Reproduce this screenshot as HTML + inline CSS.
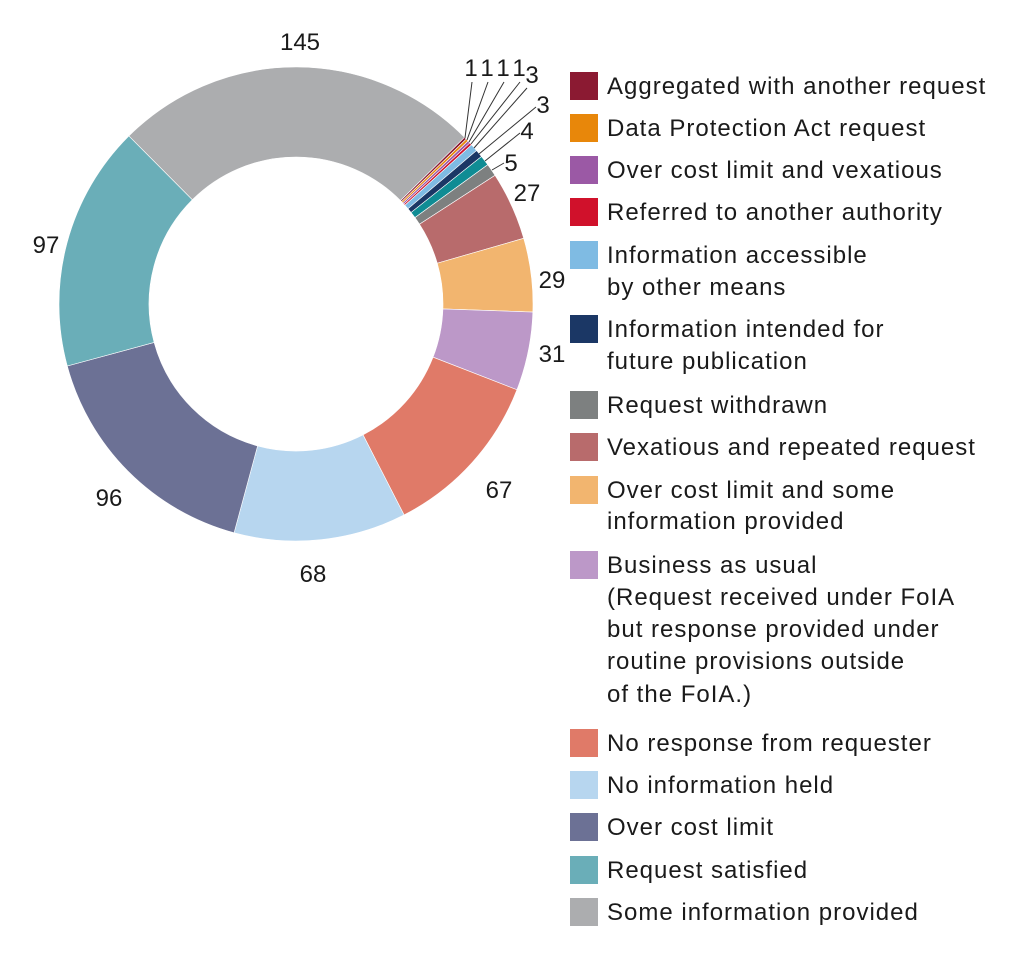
<!DOCTYPE html>
<html><head><meta charset="utf-8"><style>
html,body{margin:0;padding:0;background:#fff;}
svg text{font-family:"Liberation Sans",sans-serif;fill:#1a1a1a;}
</style></head><body>
<svg width="1011" height="958" viewBox="0 0 1011 958" xmlns="http://www.w3.org/2000/svg">
<g stroke="#fff" stroke-width="0.6">
<path fill="#8b1a32" d="M464.46,137.30 A237,237 0 0 1 466.26,139.14 L401.61,201.75 A147,147 0 0 0 400.49,200.60 Z"/>
<path fill="#e8870a" d="M466.26,139.14 A237,237 0 0 1 468.06,141.02 L402.72,202.91 A147,147 0 0 0 401.61,201.75 Z"/>
<path fill="#9b59a5" d="M468.06,141.02 A237,237 0 0 1 469.86,142.93 L403.84,204.10 A147,147 0 0 0 402.72,202.91 Z"/>
<path fill="#d0112b" d="M469.86,142.93 A237,237 0 0 1 471.59,144.83 L404.91,205.28 A147,147 0 0 0 403.84,204.10 Z"/>
<path fill="#7fbbe3" d="M471.59,144.83 A237,237 0 0 1 476.59,150.52 L408.01,208.80 A147,147 0 0 0 404.91,205.28 Z"/>
<path fill="#1b3765" d="M476.59,150.52 A237,237 0 0 1 481.50,156.52 L411.06,212.52 A147,147 0 0 0 408.01,208.80 Z"/>
<path fill="#0f8c94" d="M481.50,156.52 A237,237 0 0 1 487.76,164.71 L414.94,217.61 A147,147 0 0 0 411.06,212.52 Z"/>
<path fill="#7d8080" d="M487.76,164.71 A237,237 0 0 1 495.03,175.33 L419.45,224.19 A147,147 0 0 0 414.94,217.61 Z"/>
<path fill="#b86b6c" d="M495.03,175.33 A237,237 0 0 1 523.71,238.28 L437.24,263.24 A147,147 0 0 0 419.45,224.19 Z"/>
<path fill="#f2b56f" d="M523.71,238.28 A237,237 0 0 1 532.86,312.03 L442.91,308.98 A147,147 0 0 0 437.24,263.24 Z"/>
<path fill="#bc98c8" d="M532.86,312.03 A237,237 0 0 1 516.95,389.75 L433.05,357.18 A147,147 0 0 0 442.91,308.98 Z"/>
<path fill="#e07a68" d="M516.95,389.75 A237,237 0 0 1 404.07,514.93 L363.03,434.83 A147,147 0 0 0 433.05,357.18 Z"/>
<path fill="#b7d6ef" d="M404.07,514.93 A237,237 0 0 1 234.07,532.78 L257.59,445.90 A147,147 0 0 0 363.03,434.83 Z"/>
<path fill="#6c7195" d="M234.07,532.78 A237,237 0 0 1 67.25,365.98 L154.12,342.44 A147,147 0 0 0 257.59,445.90 Z"/>
<path fill="#6aaeb8" d="M67.25,365.98 A237,237 0 0 1 128.91,135.92 L192.36,199.75 A147,147 0 0 0 154.12,342.44 Z"/>
<path fill="#acadaf" d="M128.91,135.92 A237,237 0 0 1 464.46,137.30 L400.49,200.60 A147,147 0 0 0 192.36,199.75 Z"/>
</g>
<g font-size="24">
<text x="300" y="50" text-anchor="middle">145</text>
<text x="46" y="253" text-anchor="middle">97</text>
<text x="109" y="506" text-anchor="middle">96</text>
<text x="313" y="582" text-anchor="middle">68</text>
<text x="499" y="498" text-anchor="middle">67</text>
<text x="552" y="362" text-anchor="middle">31</text>
<text x="552" y="288" text-anchor="middle">29</text>
<text x="527" y="201" text-anchor="middle">27</text>
<text x="511" y="171" text-anchor="middle">5</text>
<text x="527" y="139" text-anchor="middle">4</text>
<text x="543" y="113" text-anchor="middle">3</text>
<text x="532" y="83" text-anchor="middle">3</text>
<text x="471" y="76" text-anchor="middle">1</text>
<text x="487" y="76" text-anchor="middle">1</text>
<text x="503" y="76" text-anchor="middle">1</text>
<text x="519" y="76" text-anchor="middle">1</text>
</g>
<g stroke="#333" stroke-width="1" fill="none">
<line x1="465" y1="138" x2="472" y2="82"/>
<line x1="467" y1="140" x2="488" y2="82"/>
<line x1="469" y1="142" x2="504" y2="82"/>
<line x1="471" y1="144" x2="520" y2="82"/>
<line x1="474" y1="148" x2="527" y2="88"/>
<line x1="479" y1="154" x2="536" y2="107"/>
<line x1="485" y1="161" x2="520" y2="133"/>
<line x1="492" y1="170" x2="504" y2="163"/>
</g>
<g font-size="24" letter-spacing="1">
<rect x="570" y="72" width="28" height="28" fill="#8b1a32"/><text x="607" y="94">Aggregated with another request</text>
<rect x="570" y="114" width="28" height="28" fill="#e8870a"/><text x="607" y="136">Data Protection Act request</text>
<rect x="570" y="156" width="28" height="28" fill="#9b59a5"/><text x="607" y="178">Over cost limit and vexatious</text>
<rect x="570" y="198" width="28" height="28" fill="#d0112b"/><text x="607" y="220">Referred to another authority</text>
<rect x="570" y="241" width="28" height="28" fill="#7fbbe3"/><text x="607" y="263">Information accessible</text><text x="607" y="295">by other means</text>
<rect x="570" y="315" width="28" height="28" fill="#1b3765"/><text x="607" y="337">Information intended for</text><text x="607" y="369">future publication</text>
<rect x="570" y="391" width="28" height="28" fill="#7d8080"/><text x="607" y="413">Request withdrawn</text>
<rect x="570" y="433" width="28" height="28" fill="#b86b6c"/><text x="607" y="455">Vexatious and repeated request</text>
<rect x="570" y="476" width="28" height="28" fill="#f2b56f"/><text x="607" y="498">Over cost limit and some</text><text x="607" y="529">information provided</text>
<rect x="570" y="551" width="28" height="28" fill="#bc98c8"/><text x="607" y="573">Business as usual</text><text x="607" y="605">(Request received under FoIA</text><text x="607" y="637">but response provided under</text><text x="607" y="669">routine provisions outside</text><text x="607" y="702">of the FoIA.)</text>
<rect x="570" y="729" width="28" height="28" fill="#e07a68"/><text x="607" y="751">No response from requester</text>
<rect x="570" y="771" width="28" height="28" fill="#b7d6ef"/><text x="607" y="793">No information held</text>
<rect x="570" y="813" width="28" height="28" fill="#6c7195"/><text x="607" y="835">Over cost limit</text>
<rect x="570" y="856" width="28" height="28" fill="#6aaeb8"/><text x="607" y="878">Request satisfied</text>
<rect x="570" y="898" width="28" height="28" fill="#acadaf"/><text x="607" y="920">Some information provided</text>
</g>
</svg>
</body></html>
